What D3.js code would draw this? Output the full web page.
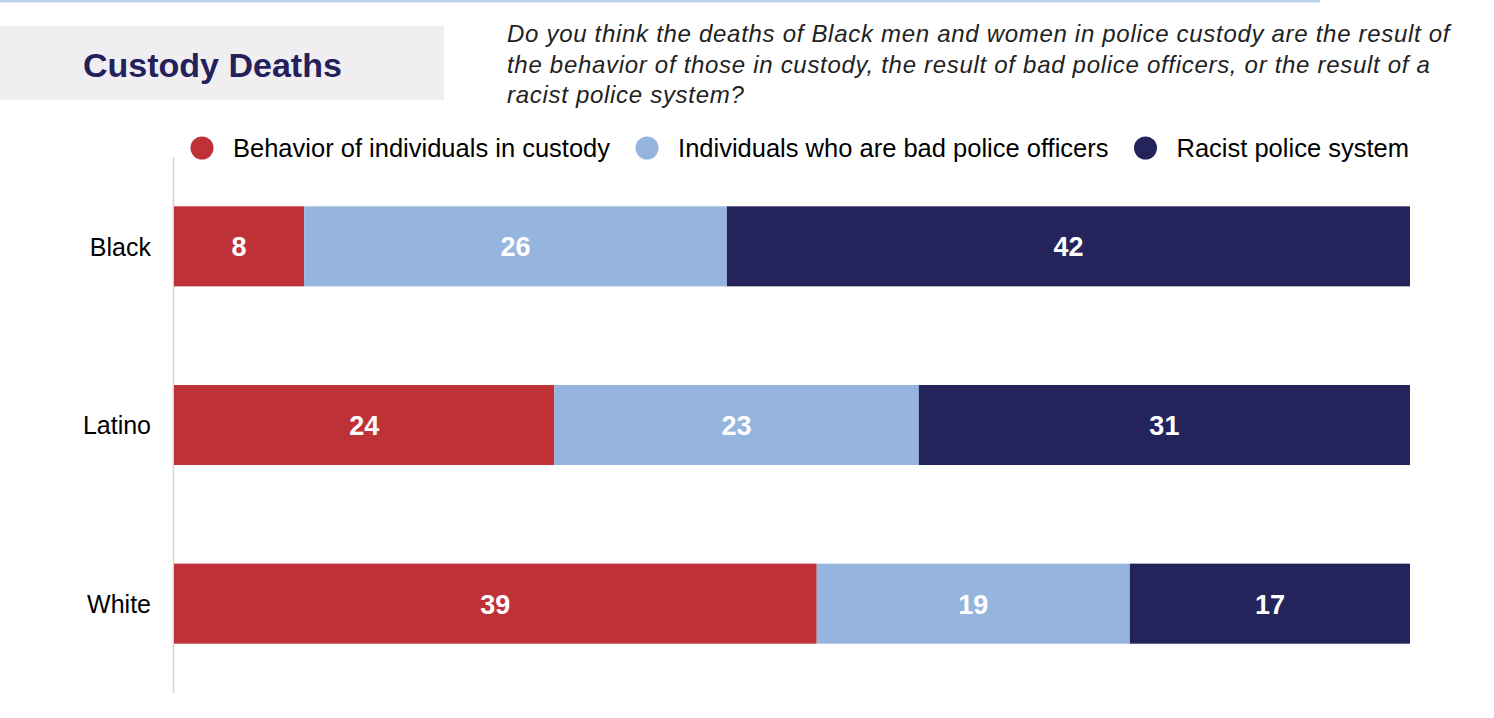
<!DOCTYPE html>
<html>
<head>
<meta charset="utf-8">
<script src="https://cdn.jsdelivr.net/npm/d3@7"></script>
<style>
  html, body { margin: 0; padding: 0; background: #fff; }
  svg { display: block; font-family: "Liberation Sans", Arial, Helvetica, sans-serif; }
</style>
</head>
<body>
<svg id="chart" width="1494" height="718"></svg>
<script>
// ---- Data ----
const categories = ["Black", "Latino", "White"];
const seriesNames = [
  "Behavior of individuals in custody",
  "Individuals who are bad police officers",
  "Racist police system"
];
const behaviorValues = [8, 24, 39];
const badOfficerValues = [26, 23, 19];
const racistSystemValues = [42, 31, 17];
const seriesColors = ["#be3237", "#95b5de", "#24235b"];
const titleText = "Custody Deaths";
const subtitleLines = [
  "Do you think the deaths of Black men and women in police custody are the result of",
  "the behavior of those in custody, the result of bad police officers, or the result of a",
  "racist police system?"
];

// ---- Build table ----
const keys = ["behavior", "badOfficer", "racistSystem"];
const table = categories.map((c, i) => ({
  category: c,
  behavior: behaviorValues[i],
  badOfficer: badOfficerValues[i],
  racistSystem: racistSystemValues[i]
}));

const svg = d3.select("#chart");

// top rule
svg.append("rect").attr("x", 0).attr("y", 0).attr("width", 1320).attr("height", 2.5).attr("fill", "#bdd0e9");

// title box
svg.append("rect").attr("x", 0).attr("y", 26).attr("width", 444).attr("height", 74).attr("fill", "#f0eef1");
svg.append("text").attr("x", 83).attr("y", 77)
  .attr("font-size", 34).attr("font-weight", "bold").attr("fill", "#22215c")
  .text(titleText);

// subtitle
const sub = svg.append("text").attr("font-size", 24).attr("font-style", "italic")
  .attr("letter-spacing", "0.7px").attr("fill", "#222");
subtitleLines.forEach((l, i) => {
  sub.append("tspan").attr("x", 507).attr("y", 42 + i * 30.7).text(l);
});

// scales
const x = d3.scaleLinear().domain([0, 1]).range([174, 1410]);
const y = d3.scaleBand().domain(categories).range([157, 693]).paddingInner(0.552).paddingOuter(0.276);
const color = d3.scaleOrdinal().domain(keys).range(seriesColors);

const stacked = d3.stack().keys(keys).offset(d3.stackOffsetExpand)(table);

// axis line
svg.append("line").attr("x1", 173.5).attr("x2", 173.5).attr("y1", 157).attr("y2", 693)
  .attr("stroke", "#d4d4d4").attr("stroke-width", 1.5);

// bars
const layers = svg.append("g").selectAll("g").data(stacked).join("g").attr("fill", d => color(d.key));
layers.selectAll("rect").data(d => d).join("rect")
  .attr("x", d => x(d[0]))
  .attr("y", d => y(d.data.category))
  .attr("width", d => x(d[1]) - x(d[0]))
  .attr("height", y.bandwidth());

// value labels
layers.each(function(layer) {
  d3.select(this).selectAll("text").data(layer).join("text")
    .attr("x", d => (x(d[0]) + x(d[1])) / 2)
    .attr("y", d => y(d.data.category) + y.bandwidth() / 2 + 10)
    .attr("text-anchor", "middle")
    .attr("font-size", 27).attr("font-weight", "bold").attr("fill", "#fff")
    .text(d => d.data[layer.key]);
});

// category labels
const yAxis = d3.axisLeft(y).tickSize(0).tickPadding(0);
const ya = svg.append("g").attr("transform", "translate(151,0)").call(yAxis);
ya.select(".domain").remove();
ya.selectAll("text").attr("font-size", 25).attr("fill", "#000")
  .attr("font-family", "Liberation Sans, Arial, sans-serif").attr("dy", "0.37em");

// legend
const legend = svg.append("g");
let lx = 202;
seriesNames.forEach((name, i) => {
  legend.append("circle").attr("cx", lx).attr("cy", 148).attr("r", 11.5).attr("fill", seriesColors[i]);
  const t = legend.append("text").attr("x", lx + 31).attr("y", 157).attr("font-size", 25.5).attr("fill", "#000").text(name);
  const w = t.node().getComputedTextLength();
  lx = lx + 31 + w + 37;
});
</script>
</body>
</html>
